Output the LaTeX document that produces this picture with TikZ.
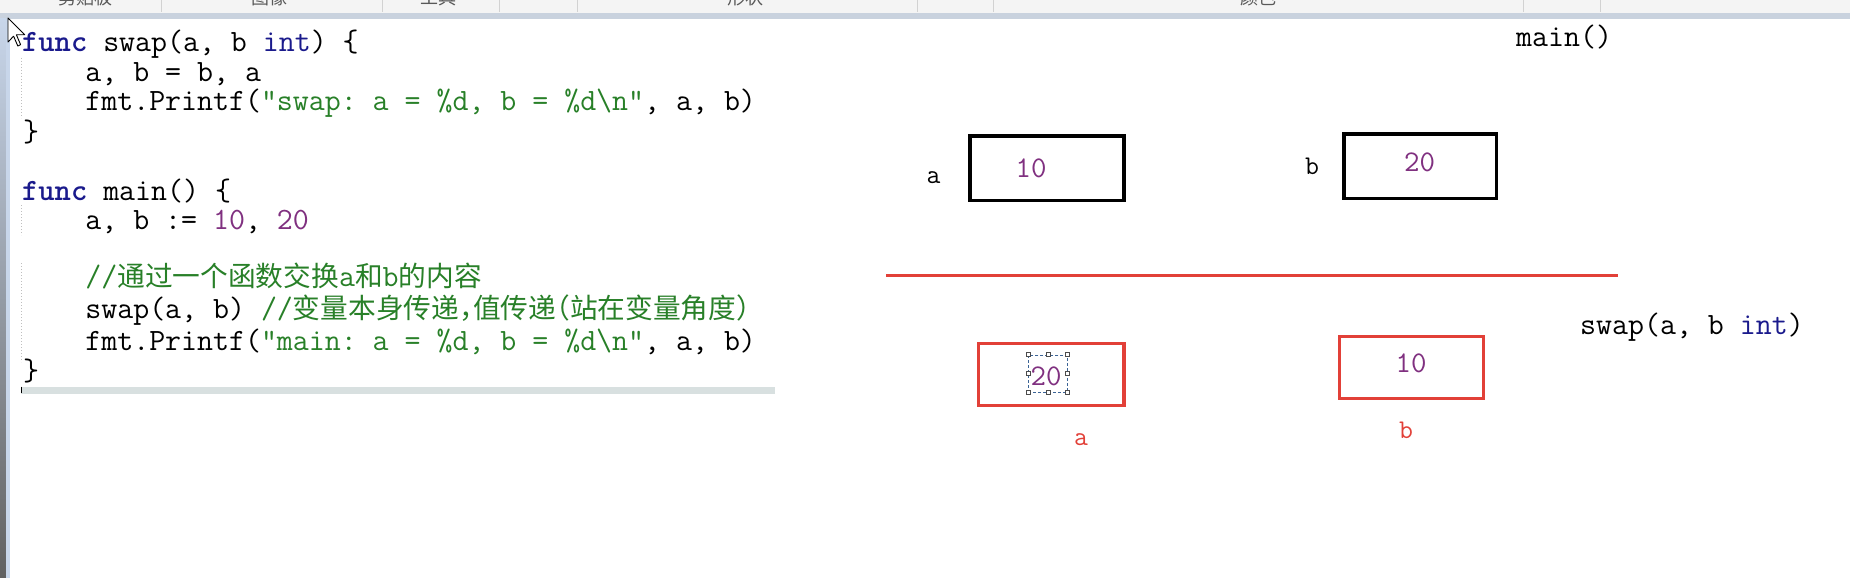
\documentclass[tikz,border=0pt]{standalone}
\usepackage{fontspec}
\newfontfamily\cjkf[Scale=0.894,RawFeature=+halt]{Noto Sans CJK SC}
\newfontfamily\cjkui{Noto Sans CJK SC}
\definecolor{navyk}{RGB}{26,26,140}
\definecolor{cgreen}{RGB}{40,128,40}
\definecolor{cpurple}{RGB}{128,48,128}
\definecolor{cred}{RGB}{226,64,56}
\definecolor{tbgray}{RGB}{244,244,244}
\definecolor{tbband}{RGB}{201,210,222}
\definecolor{sepgray}{RGB}{210,210,210}
\definecolor{barcol}{RGB}{216,224,224}
\definecolor{stripblue}{RGB}{200,214,234}
\definecolor{selblue}{RGB}{60,100,150}
\newcommand\ckw[1]{\textcolor{navyk}{\bfseries #1}}
\newcommand\cstr[1]{\textcolor{cgreen}{#1}}
\newcommand\cnum[1]{\textcolor{cpurple}{#1}}
\newcommand\cint[1]{\textcolor{navyk}{#1}}
\frenchspacing
\tikzset{
  code/.style={anchor=base west, inner sep=0pt, font=\ttfamily\fontsize{31}{31}\selectfont\frenchspacing},
  boxnum/.style={anchor=base, inner sep=0pt, text=cpurple, font=\ttfamily\fontsize{30}{30}\selectfont},
  varlbl/.style={anchor=base, inner sep=0pt, font=\ttfamily\fontsize{27}{27}\selectfont},
  blackbox/.style={draw=black, line width=3.5pt, inner sep=0pt, minimum height=64.5pt},
  redbox/.style={draw=cred, line width=3.7pt, inner sep=0pt, minimum height=62pt},
  selbox/.style={draw=selblue, line width=0.8pt, dash pattern=on 3pt off 2pt, inner sep=0pt, minimum width=39pt, minimum height=37pt},
  handle/.style={draw=black!70, fill=white, line width=0.6pt, minimum size=4pt, inner sep=0pt},
  tblabel/.style={anchor=base, inner sep=0pt, text=black!65, font=\cjkui\fontsize{18}{18}\selectfont},
  guide/.style={draw=black!25, line width=0.8pt, dash pattern=on 1pt off 2pt}
}
\begin{document}
\begin{tikzpicture}[x=1pt,y=-1pt]
\useasboundingbox (0,0) rectangle (1850,578);
\fill[white] (0,0) rectangle (1850,578);
% toolbar
\fill[tbgray] (0,0) rectangle (1850,13);
\fill[tbband] (0,13) rectangle (1850,19);
\begin{scope}
\clip (0,0) rectangle (1850,13);
\node[tblabel] (t1) at (85,4.5) {剪贴板};
\node[tblabel] (t2) at (269,4.5) {图像};
\node[tblabel] (t3) at (438,4.5) {工具};
\node[tblabel] (t4) at (745,4.5) {形状};
\node[tblabel] (t5) at (1258,4.5) {颜色};
\end{scope}
\foreach \sx in {161,382,499,577,917,993,1523,1600}
  \draw[sepgray, line width=1pt] (\sx,0) -- (\sx,12.5);
% left strip
\shade[top color=stripblue, bottom color=black!62] (0,19) rectangle (6,578);
\fill[stripblue] (6,19) rectangle (10,578);
% indent guides
\draw[guide] (21,58) -- (21,118);
\draw[guide] (21,205) -- (21,235);
\draw[guide] (21,263) -- (21,362);
% code
\node[code] (l1) at (22,51.7) {\ckw{func} swap(a, b \cint{int}) \{};
\node[code] (l2) at (85.2,81.7) {a, b = b, a};
\node[code] (l3) at (85.2,110.8) {fmt.Printf(\cstr{"swap: a = \%d, b = \%d\textbackslash n"}, a, b)};
\node[code] (l4) at (23,141) {\}};
\node[code] (l6) at (22,200) {\ckw{func} main() \{};
\node[code] (l7) at (85.2,229.5) {a, b := \cnum{10}, \cnum{20}};
\node[code] (l9) at (85.2,286.5) {\cstr{//{\cjkf 通过一个函数交换}a{\cjkf 和}b{\cjkf 的内容}}};
\node[code] (l10) at (85.2,318.5) {swap(a, b) \cstr{//{\cjkf 变量本身传递，值传递（站在变量角度）}}};
\node[code] (l11) at (85.2,350) {fmt.Printf(\cstr{"main: a = \%d, b = \%d\textbackslash n"}, a, b)};
\node[code] (l12) at (23,380) {\}};
% bottom bar of editor
\fill[barcol] (21,387) rectangle (775,394);
\draw[black, line width=1.2pt] (21.7,386.7) -- (21.7,393.3);
% mouse cursor
\draw[black, fill=white, line width=0.9pt, line join=round]
  (8,18) -- (8,42) -- (13.6,36.2) -- (17.8,46) -- (20.6,44.6) -- (16.4,34.8) -- (24.8,34.8) -- cycle;
% main() frame
\node[code] (mainlbl) at (1516,47) {main()};
\node[blackbox, minimum width=154pt] (ma) at (1046.75,168) {};
\node[blackbox, minimum width=152.5pt] (mb) at (1420,166) {};
\node[boxnum] (mav) at (1031,177) {10};
\node[boxnum] (mbv) at (1419.5,171) {20};
\node[varlbl] (mal) at (933.5,183) {a};
\node[varlbl] (mbl) at (1312,174) {b};
% separator line
\coordinate (sepL) at (886,275);
\coordinate (sepR) at (1618,275);
\draw[cred, line width=3pt] (sepL) -- (sepR);
% swap() frame
\node[code] (swaplbl) at (1580,334) {swap(a, b \cint{int})};
\node[redbox, minimum width=145.4pt] (sa) at (1051.2,374.5) {};
\node[redbox, minimum width=144pt] (sb) at (1411.5,367.5) {};
\node[boxnum] (sav) at (1046,385.7) {20};
\node[boxnum] (sbv) at (1411,372) {10};
\node[selbox] (sel) at (1047.8,373.6) {};
\foreach \an in {north west,north,north east,east,south east,south,south west,west}
  \node[handle] at (sel.\an) {};
\node[varlbl, text=cred] (sal) at (1081,445) {a};
\node[varlbl, text=cred] (sbl) at (1406,438) {b};
\end{tikzpicture}
\end{document}
